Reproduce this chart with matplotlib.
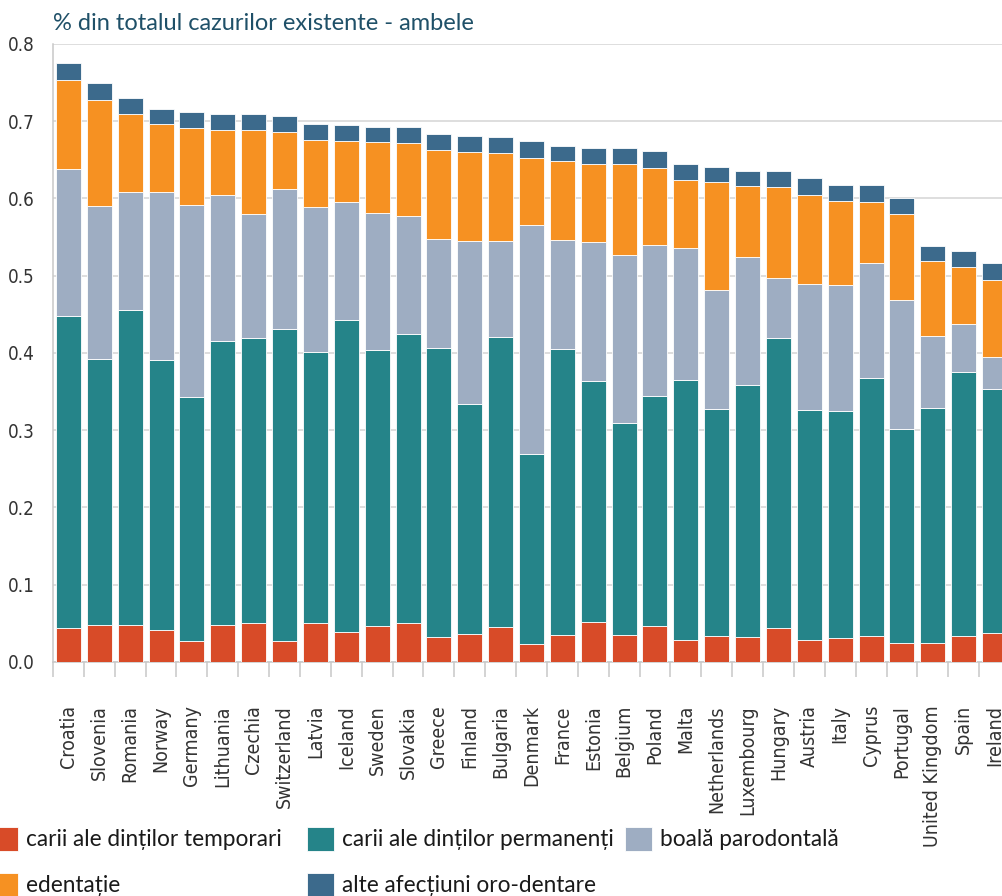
import matplotlib
matplotlib.use("Agg")
import matplotlib.pyplot as plt
import numpy as np

countries = ["Croatia", "Slovenia", "Romania", "Norway", "Germany", "Lithuania",
             "Czechia", "Switzerland", "Latvia", "Iceland", "Sweden", "Slovakia",
             "Greece", "Finland", "Bulgaria", "Denmark", "France", "Estonia",
             "Belgium", "Poland", "Malta", "Netherlands", "Luxembourg", "Hungary",
             "Austria", "Italy", "Cyprus", "Portugal", "United Kingdom", "Spain",
             "Ireland"]

# segment values (share of all existing cases)
temporari = [0.044, 0.048, 0.048, 0.042, 0.027, 0.048, 0.051, 0.027, 0.050, 0.039,
             0.046, 0.050, 0.032, 0.036, 0.045, 0.023, 0.035, 0.052, 0.035, 0.047,
             0.029, 0.034, 0.032, 0.044, 0.029, 0.031, 0.033, 0.025, 0.024, 0.033,
             0.037]
permanenti = [0.404, 0.344, 0.407, 0.349, 0.316, 0.368, 0.369, 0.404, 0.351, 0.404,
              0.358, 0.375, 0.374, 0.298, 0.376, 0.246, 0.370, 0.312, 0.274, 0.297,
              0.336, 0.293, 0.326, 0.376, 0.297, 0.294, 0.334, 0.276, 0.305, 0.342,
              0.316]
parodontala = [0.190, 0.198, 0.153, 0.217, 0.248, 0.189, 0.160, 0.181, 0.188, 0.152,
               0.177, 0.152, 0.141, 0.211, 0.124, 0.297, 0.141, 0.180, 0.218, 0.196,
               0.171, 0.154, 0.166, 0.077, 0.163, 0.163, 0.149, 0.167, 0.093, 0.062,
               0.042]
edentatie = [0.116, 0.138, 0.102, 0.088, 0.100, 0.084, 0.109, 0.074, 0.087, 0.080,
             0.092, 0.095, 0.116, 0.115, 0.114, 0.087, 0.102, 0.101, 0.118, 0.100,
             0.088, 0.140, 0.092, 0.118, 0.116, 0.109, 0.080, 0.112, 0.097, 0.074,
             0.100]
alte = [0.021, 0.021, 0.020, 0.020, 0.021, 0.021, 0.020, 0.021, 0.020, 0.020,
        0.020, 0.020, 0.021, 0.021, 0.021, 0.021, 0.020, 0.021, 0.020, 0.021,
        0.020, 0.020, 0.020, 0.021, 0.021, 0.021, 0.021, 0.021, 0.020, 0.021,
        0.021]

series = [
    ("carii ale dinților temporari", temporari, "#D84B28"),
    ("carii ale dinților permanenți", permanenti, "#258489"),
    ("boală parodontală", parodontala, "#9EADC2"),
    ("edentație", edentatie, "#F69122"),
    ("alte afecțiuni oro-dentare", alte, "#3C6A8C"),
]

narrow = ["Liberation Sans Narrow", "DejaVu Sans"]
body = ["Lato", "DejaVu Sans"]

fig = plt.figure(figsize=(10.02, 8.96), dpi=100)
ax = fig.add_axes([0.0529, 0.2612, 0.9551, 0.6897])

x = np.arange(len(countries))
bottom = np.zeros(len(countries))
handles = {}
for name, vals, color in series:
    vals = np.array(vals)
    b = ax.bar(x, vals, bottom=bottom, width=0.81, color=color,
               edgecolor="white", linewidth=0.6, zorder=3)
    handles[name] = b
    bottom += vals

ax.set_xlim(-0.5, len(countries) - 0.5)
ax.set_ylim(0, 0.8)
ax.set_yticks(np.arange(0, 0.81, 0.1))
ax.set_yticklabels([f"{v:.1f}" for v in np.arange(0, 0.81, 0.1)],
                   family=narrow, stretch="condensed", fontsize=13.5,
                   color="#333333")
ax.yaxis.grid(True, color="#d4d4d4", linewidth=1.1, zorder=0)
ax.tick_params(axis="y", length=0, pad=13)

ax.set_xticks(x)
ax.set_xticklabels(countries, rotation=90, family=narrow, stretch="condensed",
                   fontsize=14, color="#333333")
ax.set_xticks(np.arange(-0.5, len(countries), 1.0), minor=True)
ax.tick_params(axis="x", which="major", length=0, pad=31)
ax.tick_params(axis="x", which="minor", length=11, width=1.1, color="#c8c8c8")

for side in ["top", "right"]:
    ax.spines[side].set_visible(False)
for side in ["left", "bottom"]:
    ax.spines[side].set_color("#c8c8c8")
    ax.spines[side].set_linewidth(1.1)

fig.text(0.0526, 1 - 24 / 896, "% din totalul cazurilor existente - ambele",
         family=body, fontsize=17, color="#1F5068", va="center", ha="left")

# legend laid out in three columns like the original
columns = [
    (-9, ["carii ale dinților temporari", "edentație"]),
    (307, ["carii ale dinților permanenți", "alte afecțiuni oro-dentare"]),
    (625, ["boală parodontală"]),
]
fs = 16.3
fs_px = fs * 100 / 72
for xpx, names in columns:
    fig.legend([handles[n] for n in names], names, loc="upper left",
               bbox_to_anchor=(xpx / 1002, 1 - 827 / 896),
               bbox_transform=fig.transFigure, frameon=False,
               prop={"family": body, "size": fs}, borderpad=0,
               borderaxespad=0, handlelength=27 / fs_px,
               handleheight=28 / fs_px, handletextpad=8 / fs_px,
               labelspacing=(50 - 28) / fs_px, labelcolor="#1a1a1a")

fig.savefig("out.png", dpi=100)
